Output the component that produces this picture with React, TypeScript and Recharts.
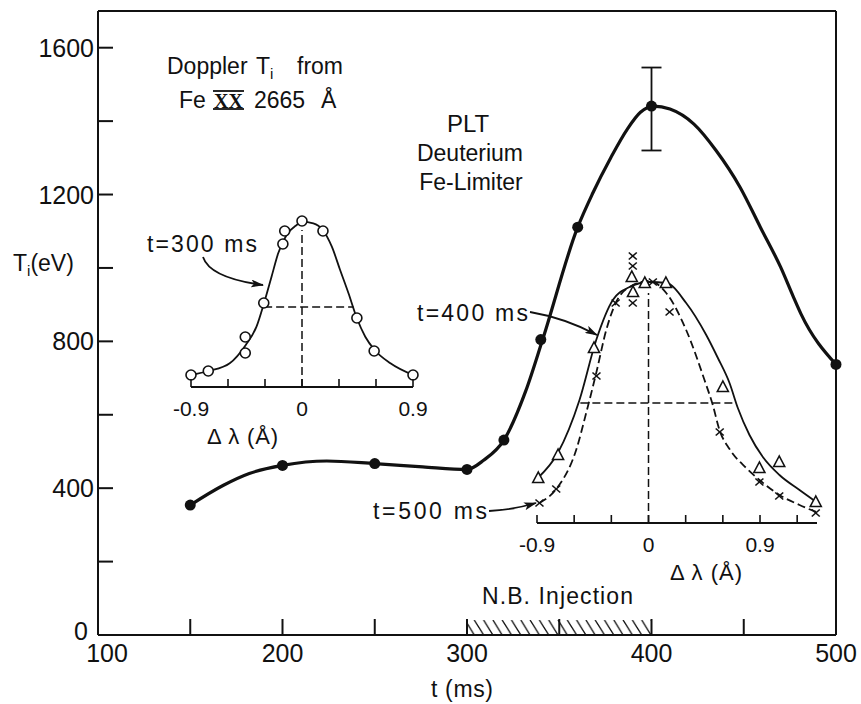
import React from "react";
import {
  ComposedChart,
  Line,
  Scatter,
  XAxis,
  YAxis,
  ReferenceArea,
  ReferenceLine,
  ErrorBar,
} from "recharts";

const FONT = "'Liberation Sans', Arial, Helvetica, sans-serif";
const INK = "#111";

// ---------- main panel: Doppler Ti vs time ----------
const timeMs = [150, 200, 250, 300, 320, 340, 360, 400, 500];
const tiEv = [354, 462, 467, 451, 531, 805, 1111, 1441, 737];
const peakTimeMs = 400;
const peakTiEv = 1441;
const peakErrDown = 121;
const peakErrUp = 105;

// smooth curve drawn through the data
const fitTimeMs = [150, 168, 182, 200, 224, 250, 276, 300, 309, 320, 332, 341, 360, 368, 378, 387, 394, 401, 410, 423, 435, 448, 459, 470, 477, 481, 500];
const fitTiEv = [354, 408, 440, 462, 474, 467, 458, 451, 476, 531, 667, 805, 1111, 1202, 1301, 1379, 1424, 1441, 1433, 1392, 1320, 1220, 1111, 1002, 920, 875, 737];

const xTickVals = [100, 150, 200, 250, 300, 350, 400, 450, 500];
const yTickVals = [0, 200, 400, 600, 800, 1000, 1200, 1400, 1600];

// neutral beam injection window
const nbStartMs = 300;
const nbEndMs = 400;
const nbBarHeight = 41;

// ---------- inset 1: line profile at t = 300 ms ----------
const in1Dl = [-0.9, -0.76, -0.46, -0.46, -0.31, -0.155, -0.14, 0, 0.17, 0.445, 0.585, 0.9];
const in1I = [12, 16, 34, 50, 84, 143, 156, 166, 156, 69, 36, 12];
const in1FitDl = [-0.9, -0.757, -0.586, -0.456, -0.369, -0.307, -0.247, -0.193, -0.125, -0.043, 0, 0.092, 0.168, 0.242, 0.309, 0.377, 0.445, 0.513, 0.589, 0.717, 0.9];
const in1FitI = [12, 16, 23.7, 42, 60.3, 84.3, 110.3, 133.7, 152, 162, 165.3, 163.7, 157, 140.3, 117, 93.7, 68.7, 50.3, 37, 23.7, 12];
const in1Half = { from: -0.307, to: 0.418, level: 80 };
const in1CenterTop = 157;
const in1Ticks = [-0.9, -0.6, -0.3, 0, 0.3, 0.6, 0.9];

// ---------- inset 2: line profiles at t = 400 ms (triangles) and 500 ms (crosses) ----------
const in2TriDl = [-0.89, -0.73, -0.44, -0.135, -0.125, -0.03, 0.14, 0.6, 0.895, 1.055, 1.35];
const in2TriI = [45, 68, 175, 246, 231, 240, 240, 136, 55, 61, 21];
const in2CrossDl = [-0.88, -0.745, -0.42, -0.265, -0.127, -0.127, -0.127, 0.035, 0.17, 0.575, 0.895, 1.055, 1.35];
const in2CrossI = [20, 34, 147, 220, 267, 257, 220, 241, 211, 91, 41, 27, 10];
const in2FitSolidDl = [-0.893, -0.732, -0.557, -0.422, -0.288, -0.153, 0.008, 0.143, 0.304, 0.466, 0.56, 0.654, 0.721, 0.815, 0.923, 1.057, 1.219, 1.354];
const in2FitSolidI = [45, 70, 123, 183, 223, 236, 241, 240, 220, 188, 165, 140, 115, 88, 66, 48, 33, 21];
const in2FitDashDl = [-0.88, -0.745, -0.584, -0.503, -0.422, -0.341, -0.261, -0.153, 0.008, 0.143, 0.304, 0.452, 0.519, 0.573, 0.654, 0.789, 0.896, 1.057, 1.219, 1.354];
const in2FitDashI = [20, 34, 73, 110, 150, 193, 221, 236, 242, 230, 193, 143, 118, 93, 74, 55, 43, 28, 18, 11];
const in2Half = { from: -0.55, to: 0.69, level: 120 };
const in2CenterTop = 230;
const in2Ticks = [-0.9, -0.6, -0.3, 0, 0.3, 0.6, 0.9, 1.2];

// ---------- assembled tables ----------
const measured = timeMs.map((t, i) => ({ t, Ti: tiEv[i] }));
const fitCurve = fitTimeMs.map((t, i) => ({ t, Ti: fitTiEv[i] }));
const peakPoint = [{ t: peakTimeMs, Ti: peakTiEv, err: [peakErrDown, peakErrUp] }];
const in1Pts = in1Dl.map((dl, i) => ({ dl, h: in1I[i] }));
const in1Fit = in1FitDl.map((dl, i) => ({ dl, h: in1FitI[i] }));
const in2Tri = in2TriDl.map((dl, i) => ({ dl, h: in2TriI[i] }));
const in2Cross = in2CrossDl.map((dl, i) => ({ dl, h: in2CrossI[i] }));
const in2FitSolid = in2FitSolidDl.map((dl, i) => ({ dl, h: in2FitSolidI[i] }));
const in2FitDash = in2FitDashDl.map((dl, i) => ({ dl, h: in2FitDashI[i] }));

// ---------- tick renderers ----------
const BottomTick = (p: any) => {
  const { x, y, payload } = p;
  const v = payload.value;
  const inner = v > 100 && v < 500;
  const labeled = v % 100 === 0;
  return (
    <g>
      {inner && <line x1={x} x2={x} y1={y} y2={y - 16} stroke={INK} strokeWidth={2} />}
      {labeled && (
        <text x={v === 100 ? x + 9 : x} y={y + 27} textAnchor="middle" fontSize={25} fontFamily={FONT} fill={INK}>
          {v}
        </text>
      )}
    </g>
  );
};

const TopTick = (p: any) => {
  const { x, y, payload } = p;
  const v = payload.value;
  if (v <= 100 || v >= 500) return <g />;
  return <line x1={x} x2={x} y1={y} y2={y + 13} stroke={INK} strokeWidth={2} />;
};

const LeftTick = (p: any) => {
  const { x, y, payload } = p;
  const v = payload.value;
  return (
    <g>
      {v > 0 && <line x1={x} x2={x + 15} y1={y} y2={y} stroke={INK} strokeWidth={2} />}
      {v % 400 === 0 && (
        <text
          x={v === 0 ? x - 10 : x - 4}
          y={v === 0 ? y + 5 : y + 9}
          textAnchor="end"
          fontSize={25}
          fontFamily={FONT}
          fill={INK}
        >
          {v}
        </text>
      )}
    </g>
  );
};

const RightTick = (p: any) => {
  const { x, y, payload } = p;
  const v = payload.value;
  if (v <= 0) return <g />;
  return <line x1={x} x2={x - 15} y1={y} y2={y} stroke={INK} strokeWidth={2} />;
};

const InsetTick = (p: any) => {
  const { x, y, payload } = p;
  const v = payload.value;
  const near = (a: number, b: number) => Math.abs(a - b) < 1e-6;
  const label = near(v, 0) ? "0" : near(v, 0.9) ? "0.9" : near(v, -0.9) ? "-0.9" : null;
  return (
    <g>
      <line x1={x} x2={x} y1={y} y2={y - 8} stroke={INK} strokeWidth={1.6} />
      {label && (
        <text x={x} y={y + 29} textAnchor="middle" fontSize={21} fontFamily={FONT} fill={INK}>
          {label}
        </text>
      )}
    </g>
  );
};

// ---------- marker shapes ----------
const FilledDot = (p: any) => <circle cx={p.cx} cy={p.cy} r={5.5} fill={INK} />;
const OpenCircle = (p: any) => (
  <circle cx={p.cx} cy={p.cy} r={5} fill="#fff" stroke={INK} strokeWidth={1.6} />
);
const OpenTriangle = (p: any) => (
  <polygon
    points={`${p.cx},${p.cy - 6} ${p.cx - 5.5},${p.cy + 4.5} ${p.cx + 5.5},${p.cy + 4.5}`}
    fill="#fff"
    stroke={INK}
    strokeWidth={1.6}
  />
);
const Cross = (p: any) => (
  <g stroke={INK} strokeWidth={1.6}>
    <line x1={p.cx - 4} y1={p.cy - 3.5} x2={p.cx + 4} y2={p.cy + 3.5} />
    <line x1={p.cx - 4} y1={p.cy + 3.5} x2={p.cx + 4} y2={p.cy - 3.5} />
  </g>
);
const NoShape = () => <g />;

const axisStroke = { stroke: INK, strokeWidth: 2 };

export default function App() {
  return (
    <div style={{ position: "relative", width: 861, height: 704, background: "#fff", overflow: "hidden" }}>
      <style>{"body{margin:0;background:#fff}"}</style>
      <svg width={0} height={0} style={{ position: "absolute" }}>
        <defs>
          <pattern id="nbHatch" patternUnits="userSpaceOnUse" x={0} y={620} width={9.3} height={15}>
            <path d="M-9.3,0 L0,15 M0,0 L9.3,15 M9.3,0 L18.6,15" stroke={INK} strokeWidth={1.3} fill="none" />
          </pattern>
          <marker
            id="arrowHead"
            viewBox="0 0 13 8"
            refX={12}
            refY={4}
            markerWidth={13}
            markerHeight={8}
            markerUnits="userSpaceOnUse"
            orient="auto"
          >
            <path d="M0,0 L13,4 L0,8 L3,4 z" fill={INK} />
          </marker>
        </defs>
      </svg>

      {/* main panel */}
      <div style={{ position: "absolute", left: 0, top: 0 }}>
        <ComposedChart width={861} height={704} margin={{ top: 10, right: 0, bottom: 0, left: 0 }}>
          <XAxis
            dataKey="t"
            type="number"
            domain={[100, 500]}
            ticks={xTickVals}
            interval={0}
            height={69}
            tickSize={0}
            tickMargin={0}
            tickLine={false}
            axisLine={axisStroke}
            tick={<BottomTick />}
          />
          <XAxis
            xAxisId="top"
            orientation="top"
            dataKey="t"
            type="number"
            domain={[100, 500]}
            ticks={xTickVals}
            interval={0}
            height={1}
            tickSize={0}
            tickMargin={0}
            tickLine={false}
            axisLine={axisStroke}
            tick={<TopTick />}
          />
          <YAxis
            dataKey="Ti"
            type="number"
            domain={[0, 1700]}
            ticks={yTickVals}
            interval={0}
            width={98}
            tickSize={0}
            tickMargin={0}
            tickLine={false}
            axisLine={axisStroke}
            tick={<LeftTick />}
          />
          <YAxis
            yAxisId="right"
            orientation="right"
            dataKey="Ti"
            type="number"
            domain={[0, 1700]}
            ticks={yTickVals}
            interval={0}
            width={25}
            tickSize={0}
            tickMargin={0}
            tickLine={false}
            axisLine={axisStroke}
            tick={<RightTick />}
          />
          <ReferenceArea
            x1={nbStartMs}
            x2={nbEndMs}
            y1={0}
            y2={nbBarHeight}
            fill="url(#nbHatch)"
            fillOpacity={1}
            stroke="none"
          />
          <Line
            data={fitCurve}
            dataKey="Ti"
            type="monotone"
            stroke={INK}
            strokeWidth={3.2}
            dot={false}
            activeDot={false}
            isAnimationActive={false}
          />
          <Scatter data={measured} fill={INK} shape={FilledDot} isAnimationActive={false} />
          <Scatter data={peakPoint} shape={NoShape} isAnimationActive={false}>
            <ErrorBar dataKey="err" direction="y" width={10} stroke={INK} strokeWidth={1.8} isAnimationActive={false} />
          </Scatter>
        </ComposedChart>
      </div>

      {/* inset 1: t = 300 ms */}
      <div style={{ position: "absolute", left: 151, top: 197 }}>
        <ComposedChart width={302} height={230} margin={{ top: 0, right: 40, bottom: 0, left: 40 }}>
          <XAxis
            dataKey="dl"
            type="number"
            domain={[-0.9, 0.9]}
            ticks={in1Ticks}
            interval={0}
            height={40}
            tickSize={0}
            tickMargin={0}
            tickLine={false}
            axisLine={{ stroke: INK, strokeWidth: 1.8 }}
            tick={<InsetTick />}
          />
          <YAxis dataKey="h" type="number" domain={[0, 190]} hide />
          <ReferenceLine
            segment={[{ x: in1Half.from, y: in1Half.level }, { x: in1Half.to, y: in1Half.level }]}
            stroke={INK}
            strokeWidth={1.5}
            strokeDasharray="8 4"
          />
          <ReferenceLine
            segment={[{ x: 0, y: 0 }, { x: 0, y: in1CenterTop }]}
            stroke={INK}
            strokeWidth={1.5}
            strokeDasharray="8 4"
          />
          <Line
            data={in1Fit}
            dataKey="h"
            type="monotone"
            stroke={INK}
            strokeWidth={1.8}
            dot={false}
            activeDot={false}
            isAnimationActive={false}
          />
          <Scatter data={in1Pts} shape={OpenCircle} isAnimationActive={false} />
        </ComposedChart>
      </div>

      {/* inset 2: t = 400 ms and 500 ms */}
      <div style={{ position: "absolute", left: 497, top: 243 }}>
        <ComposedChart width={360} height={320} margin={{ top: 0, right: 40, bottom: 0, left: 40 }}>
          <XAxis
            dataKey="dl"
            type="number"
            domain={[-0.9, 1.36]}
            ticks={in2Ticks}
            interval={0}
            height={40}
            tickSize={0}
            tickMargin={0}
            tickLine={false}
            axisLine={{ stroke: INK, strokeWidth: 1.8 }}
            tick={<InsetTick />}
          />
          <YAxis dataKey="h" type="number" domain={[0, 280]} hide />
          <ReferenceLine
            segment={[{ x: in2Half.from, y: in2Half.level }, { x: in2Half.to, y: in2Half.level }]}
            stroke={INK}
            strokeWidth={1.5}
            strokeDasharray="8 4"
          />
          <ReferenceLine
            segment={[{ x: 0, y: 0 }, { x: 0, y: in2CenterTop }]}
            stroke={INK}
            strokeWidth={1.5}
            strokeDasharray="8 4"
          />
          <Line
            data={in2FitSolid}
            dataKey="h"
            type="monotone"
            stroke={INK}
            strokeWidth={1.8}
            dot={false}
            activeDot={false}
            isAnimationActive={false}
          />
          <Line
            data={in2FitDash}
            dataKey="h"
            type="monotone"
            stroke={INK}
            strokeWidth={1.8}
            strokeDasharray="8 4"
            dot={false}
            activeDot={false}
            isAnimationActive={false}
          />
          <Scatter data={in2Tri} shape={OpenTriangle} isAnimationActive={false} />
          <Scatter data={in2Cross} shape={Cross} isAnimationActive={false} />
        </ComposedChart>
      </div>

      {/* annotations */}
      <svg
        width={861}
        height={704}
        style={{ position: "absolute", left: 0, top: 0, pointerEvents: "none" }}
        fontFamily={FONT}
        fill={INK}
      >
        <text y={74} fontSize={23}>
          <tspan x={167}>Doppler</tspan>
          <tspan x={256}>T</tspan>
          <tspan dy={5} fontSize={15}>i</tspan>
          <tspan x={297} dy={-5}>from</tspan>
        </text>
        <text y={108} fontSize={23}>
          <tspan x={179}>Fe</tspan>
          <tspan x={214} fontFamily="'Liberation Serif', 'Times New Roman', serif" fontWeight="bold" fontSize={20}>
            XX
          </tspan>
          <tspan x={254}>2665</tspan>
          <tspan x={321}>Å</tspan>
        </text>
        <line x1={213} x2={244} y1={91} y2={91} stroke={INK} strokeWidth={1.8} />
        <line x1={213} x2={244} y1={109} y2={109} stroke={INK} strokeWidth={1.8} />

        <text x={468} y={132} fontSize={24} textAnchor="middle">PLT</text>
        <text x={470} y={161} fontSize={23} textAnchor="middle">Deuterium</text>
        <text x={471} y={190} fontSize={23} textAnchor="middle">Fe-Limiter</text>

        <text x={13} y={271} fontSize={23}>
          T<tspan dy={5} fontSize={15}>i</tspan>
          <tspan dy={-5}>(eV)</tspan>
        </text>

        <text x={147} y={252} fontSize={23} textLength={110} lengthAdjust="spacing">t=300 ms</text>
        <text x={417} y={321} fontSize={23} textLength={111} lengthAdjust="spacing">t=400 ms</text>
        <text x={373} y={519} fontSize={23} textLength={114} lengthAdjust="spacing">t=500 ms</text>

        <path d="M203,257 Q210,278 263,285" stroke={INK} strokeWidth={1.8} fill="none" markerEnd="url(#arrowHead)" />
        <path d="M530,312 Q565,318 597,335" stroke={INK} strokeWidth={1.8} fill="none" markerEnd="url(#arrowHead)" />
        <path d="M489,511 Q512,510 536,503" stroke={INK} strokeWidth={1.8} fill="none" markerEnd="url(#arrowHead)" />

        <text x={207} y={444} fontSize={22} textLength={71} lengthAdjust="spacing">Δ λ (Å)</text>
        <text x={670} y={580} fontSize={22} textLength={72} lengthAdjust="spacing">Δ λ (Å)</text>

        <text x={482} y={604} fontSize={23} textLength={151} lengthAdjust="spacing">N.B. Injection</text>
        <text x={431} y={697} fontSize={23} textLength={62} lengthAdjust="spacing">t (ms)</text>
      </svg>
    </div>
  );
}
